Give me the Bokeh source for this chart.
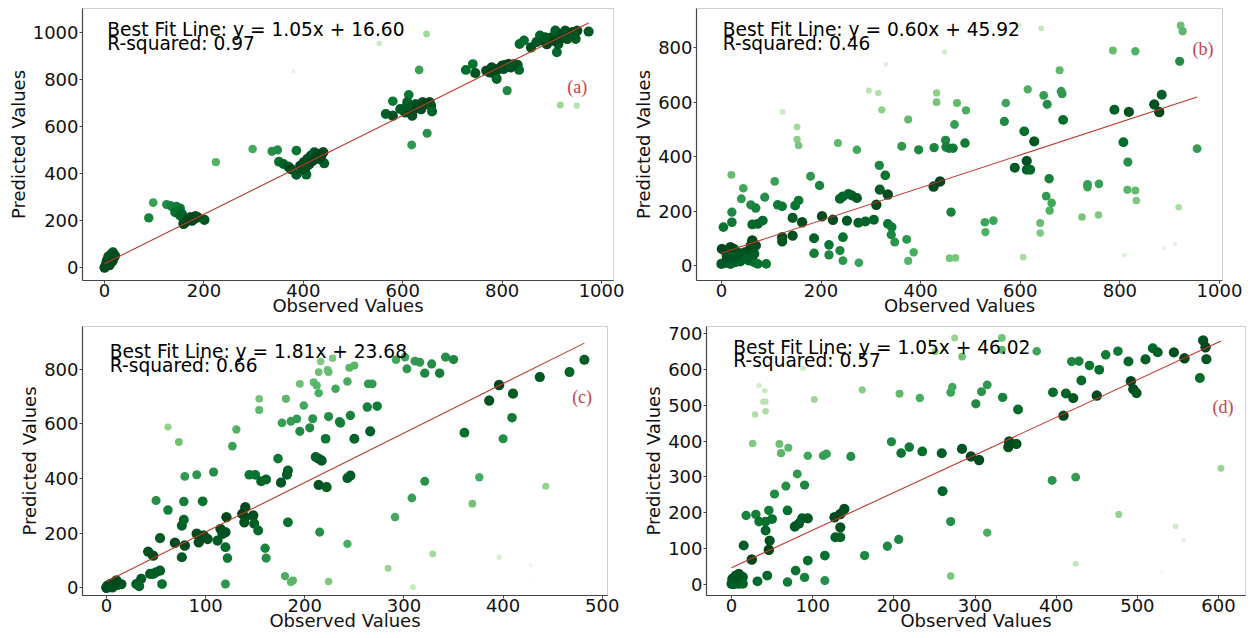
import numpy as np
from bokeh.plotting import figure
from bokeh.layouts import row, column
from bokeh.models import Range1d, FixedTicker, Label, ColumnDataSource, LinearColorMapper
from bokeh.embed import file_html
from bokeh.resources import INLINE

# ---------------- data ----------------
a_x = [0, 2, 4, 7, 10, 12, 14, 17, 19, 21, 10, 5, 13, 8, 3, 16,
       89, 98, 125, 133, 138, 145, 152, 142, 149, 156, 159, 163, 170, 173, 180, 187, 201, 159, 152, 166, 176, 183,
       166, 224,
       298, 337, 348, 386, 351, 360, 370, 375, 386, 406, 394, 401, 408, 415, 422, 429, 440, 442, 432, 412, 398, 419, 426, 405, 436,
       566, 580, 580, 612, 609, 602, 616, 619, 626, 633, 640, 647, 654, 657, 659, 605, 623, 637, 649, 618, 633, 609, 595,
       553, 648, 380,
       727, 741, 746, 768, 779, 785, 789, 792, 800, 806, 813, 820, 831, 834, 810, 775, 803, 817, 824,
       835, 844, 858, 869, 876, 883, 890, 893, 900, 907, 910, 913, 920, 927, 934, 941, 948, 951, 974, 903, 917, 931, 944, 886,
       917, 950]
a_y = [0, 5, 18, 25, 37, 22, 58, 65, 44, 51, 10, 30, 35, 48, 10, 28,
       211, 276, 268, 263, 256, 259, 252, 235, 242, 228, 207, 193, 207, 214, 207, 214, 203, 186, 221, 200, 200, 218,
       660, 448,
       504, 494, 500, 497, 450, 440, 429, 419, 395, 395, 433, 448, 462, 476, 490, 483, 490, 443, 462, 440, 419, 455, 469, 426, 476,
       653, 646, 707, 734, 703, 667, 681, 646, 695, 688, 703, 695, 703, 688, 663, 660, 674, 674, 571, 521, 840, 688, 674,
       953, 993, 833,
       840, 865, 826, 837, 851, 823, 802, 844, 858, 861, 865, 858, 861, 840, 752, 830, 844, 851, 865,
       950, 965, 936, 958, 986, 965, 950, 972, 979, 1007, 915, 950, 993, 1007, 986, 1000, 972, 1007, 1003, 965, 972, 972, 986, 979,
       691, 688]

b_x = [0, 7, 18, 28, 38, 45, 56, 66, 73, 90, 1, 7, 18, 25, 31, 38, 45, 52, 59, 62,
       69, 66, 52, 11, 25, 4, 21, 21, 20, 44, 40, 59, 69, 62, 73, 83, 87, 107, 123, 152,
       152, 155, 113, 122, 122, 122, 143, 143, 162, 148, 155, 179, 197, 186, 186, 202, 216, 216, 224, 234,
       238, 244, 244, 252, 238, 244, 255, 262, 272, 272, 276, 275, 289, 306, 311, 318, 317, 329, 334, 296,
       315, 322, 330, 231, 282, 334, 342, 341, 348, 372, 375, 386, 362, 375, 396, 426, 439, 427, 450, 451,
       457, 465, 468, 473, 491, 432, 432, 448, 461, 458, 470, 489, 529, 546, 530, 568, 571, 589, 608, 613,
       613, 620, 628, 606, 615, 640, 640, 647, 654, 658, 652, 663, 659, 679, 682, 684, 686, 598, 642, 724,
       757, 735, 735, 758, 786, 831, 789, 818, 807, 816, 815, 831, 833, 809, 869, 884, 879, 888, 911, 918,
       920, 922, 926, 955]
b_y = [6, 10, 6, 12, 15, 25, 18, 12, 6, 6, 61, 55, 67, 61, 49, 43, 47, 52, 74, 92,
       74, 43, 25, 31, 31, 141, 159, 196, 333, 284, 245, 223, 211, 151, 153, 165, 251, 309, 564, 509,
       463, 441, 223, 217, 104, 89, 110, 175, 159, 220, 239, 328, 294, 100, 45, 181, 76, 39, 168, 450,
       55, 104, 18, 165, 245, 254, 263, 257, 248, 425, 10, 157, 162, 168, 223, 279, 368, 331, 261, 643,
       634, 572, 738, 772, 772, 153, 141, 113, 86, 96, 17, 49, 438, 536, 425, 290, 309, 433, 460, 435,
       431, 431, 518, 597, 570, 634, 600, 784, 196, 27, 28, 450, 159, 165, 123, 529, 597, 359, 493, 384,
       352, 352, 456, 31, 647, 156, 119, 625, 592, 319, 255, 230, 202, 717, 640, 631, 535, 882, 871, 178,
       186, 298, 288, 300, 790, 787, 572, 564, 453, 380, 278, 276, 239, 39, 592, 627, 564, 64, 80, 214,
       750, 882, 860, 429]

c_x = [0, 1, 4, 8, 11, 15, 0, 6, 10, 30, 35, 33, 42, 47, 44, 47, 50, 54, 56, 50,
       62, 54, 69, 76, 78, 79, 76, 78, 79, 91, 97, 62, 73, 108, 91, 95, 98, 102, 93, 112,
       115, 117, 120, 120, 122, 121, 120, 127, 131, 140, 137, 140, 148, 139, 149, 153, 160, 161, 144, 150,
       156, 161, 173, 176, 183, 182, 183, 180, 188, 186, 154, 154, 181, 177, 186, 192, 195, 205, 208, 199,
       195, 209, 212, 214, 216, 223, 224, 228, 214, 224, 231, 235, 236, 243, 245, 250, 246, 264, 268, 263,
       273, 266, 250, 221, 211, 214, 217, 214, 222, 243, 246, 215, 224, 243, 284, 291, 308, 321, 329, 309,
       292, 301, 303, 311, 316, 321, 328, 336, 342, 350, 361, 376, 369, 386, 396, 400, 410, 409, 437, 443,
       396, 428, 431, 467, 482]
c_y = [2, 8, 14, 21, 11, 14, 0, 2, 27, 14, 33, 6, 133, 118, 51, 51, 57, 63, 14, 320,
       285, 182, 165, 228, 249, 155, 112, 316, 408, 414, 317, 589, 534, 424, 198, 179, 192, 179, 167, 173,
       216, 198, 204, 149, 109, 259, 14, 519, 580, 295, 271, 259, 265, 240, 235, 210, 145, 109, 414, 414,
       390, 397, 473, 385, 430, 414, 240, 43, 27, 21, 692, 651, 692, 604, 610, 619, 573, 586, 619, 668,
       747, 753, 741, 790, 829, 798, 790, 841, 713, 627, 729, 608, 604, 756, 806, 814, 631, 747, 747, 662,
       665, 573, 546, 546, 479, 473, 466, 377, 369, 402, 411, 204, 23, 161, 72, 259, 329, 390, 124, 2,
       835, 845, 802, 830, 826, 786, 820, 786, 845, 836, 568, 405, 308, 686, 743, 546, 711, 623, 772, 372,
       112, 82, 27, 790, 835]

d_x = [0, 3, 7, 12, 14, 1, 5, 9, 14, 3, 9, 5, 15, 25, 32, 18, 30, 26, 29, 34,
       41, 39, 42, 42, 34, 42, 50, 46, 42, 47, 46, 44, 53, 59, 61, 70, 67, 69, 69, 78,
       83, 87, 94, 81, 90, 94, 79, 90, 94, 102, 88, 113, 117, 115, 115, 127, 134, 139, 128, 134,
       134, 147, 161, 164, 192, 197, 206, 207, 209, 219, 232, 235, 251, 259, 260, 270, 270, 272, 270, 275,
       284, 284, 295, 305, 301, 308, 315, 315, 333, 333, 334, 341, 342, 351, 353, 376, 395, 396, 409, 412,
       421, 419, 428, 424, 424, 431, 441, 450, 453, 461, 476, 477, 489, 492, 495, 499, 510, 519, 525, 545,
       547, 557, 558, 577, 581, 584, 585, 603, 530, 562]
d_y = [1, 6, 10, 15, 20, 15, 24, 1, 1, 0, 29, 15, 108, 69, 8, 192, 195, 393, 474, 555,
       541, 510, 510, 483, 175, 175, 182, 206, 150, 122, 96, 24, 252, 392, 366, 381, 274, 206, 6, 161,
       169, 184, 184, 308, 277, 359, 38, 19, 66, 516, 603, 359, 364, 80, 10, 187, 196, 210, 131, 131,
       159, 357, 543, 80, 106, 398, 125, 532, 366, 383, 520, 371, 650, 366, 260, 175, 536, 551, 23, 688,
       636, 378, 357, 347, 504, 538, 557, 144, 688, 655, 522, 383, 399, 392, 488, 651, 290, 536, 471, 533,
       520, 622, 623, 299, 57, 569, 611, 527, 599, 641, 651, 195, 622, 567, 545, 534, 628, 659, 648, 648,
       162, 122, 631, 576, 681, 662, 629, 324, 34, 43]

slopes = [1.05, 0.60, 1.81, 1.05]
intercepts = [16.60, 45.92, 23.68, 46.02]
r_squared = [0.97, 0.46, 0.66, 0.57]
tags = ["(a)", "(b)", "(c)", "(d)"]

a_xticks = [0, 200, 400, 600, 800, 1000]
a_yticks = [0, 200, 400, 600, 800, 1000]
b_xticks = [0, 200, 400, 600, 800, 1000]
b_yticks = [0, 200, 400, 600, 800]
c_xticks = [0, 100, 200, 300, 400, 500]
c_yticks = [0, 200, 400, 600, 800]
d_xticks = [0, 100, 200, 300, 400, 500, 600]
d_yticks = [0, 100, 200, 300, 400, 500, 600, 700]

# ---------------- style ----------------
GREENS9 = ['#00441b', '#006d2c', '#238b45', '#41ab5d', '#74c476',
           '#a1d99b', '#c7e9c0', '#e5f5e0', '#f7fcf5']


def interp_palette(pal, n=256):
    cols = [tuple(int(h[i:i + 2], 16) for i in (1, 3, 5)) for h in pal]
    out = []
    for k in range(n):
        t = k / (n - 1) * (len(cols) - 1)
        i = min(int(t), len(cols) - 2)
        f = t - i
        c = [round(cols[i][j] * (1 - f) + cols[i + 1][j] * f) for j in range(3)]
        out.append('#%02x%02x%02x' % tuple(c))
    return out


PAL = interp_palette(GREENS9)
FONT = "DejaVu Sans"
FS = "18px"
FS_NOTE = "18.6px"


def build(x, y, slope, intercept, r2, tag, xt, yt, xr, yr, nxr, nyr, w, h, lb, rb, tb, bb, tagpos):
    p = figure(width=w, height=h, x_range=Range1d(*xr), y_range=Range1d(*yr),
               output_backend="svg", toolbar_location=None,
               min_border_left=lb, min_border_right=rb, min_border_top=tb, min_border_bottom=bb,
               background_fill_color="white", border_fill_color="white")
    p.outline_line_color = "#d0d0d0"
    p.outline_line_width = 1
    p.grid.grid_line_color = None

    xs = np.array(x, dtype=float)
    ys = np.array(y, dtype=float)
    res = np.abs(ys - (slope * xs + intercept))
    d = res / res.max()
    size = 10.5 * np.sqrt(1 - 0.92 * d)
    src = ColumnDataSource(dict(x=xs, y=ys, res=res, size=size))
    mapper = LinearColorMapper(palette=PAL, low=0, high=float(res.max()))
    p.scatter('x', 'y', source=src, size='size',
              fill_color={'field': 'res', 'transform': mapper}, line_color=None)

    lx = np.array([xs.min(), xs.max()])
    p.line(lx, slope * lx + intercept, line_color="#c0392b", line_width=1.1)

    for ax in (p.xaxis[0], p.yaxis[0]):
        ax.major_label_text_font = FONT
        ax.major_label_text_font_size = FS
        ax.major_label_text_color = "#111111"
        ax.axis_label_text_font = FONT
        ax.axis_label_text_font_size = FS
        ax.axis_label_text_font_style = "normal"
        ax.axis_label_text_color = "#111111"
        ax.axis_line_color = "#444444"
        ax.axis_line_width = 1.2
        ax.major_tick_line_color = "#444444"
        ax.major_tick_out = 3
        ax.major_tick_in = 0
        ax.minor_tick_line_color = None
    p.xaxis.ticker = FixedTicker(ticks=xt)
    p.yaxis.ticker = FixedTicker(ticks=yt)
    p.xaxis.axis_label = "Observed Values"
    p.yaxis.axis_label = "Predicted Values"
    p.xaxis.major_label_standoff = 0
    p.xaxis.axis_label_standoff = -5
    p.yaxis.major_label_standoff = 1
    p.yaxis.axis_label_standoff = 1

    # annotations placed as fractions of the original axes box
    xw = nxr[1] - nxr[0]
    yh = nyr[1] - nyr[0]
    p.add_layout(Label(x=nxr[0] + 0.05 * xw, y=nyr[0] + 0.96 * yh,
                       text="Best Fit Line: y = %.2fx + %.2f" % (slope, intercept),
                       text_font=FONT, text_font_size=FS_NOTE, text_color="black",
                       text_baseline="top", text_align="left"))
    p.add_layout(Label(x=nxr[0] + 0.05 * xw, y=nyr[0] + 0.91 * yh,
                       text="R-squared: %.2f" % r2,
                       text_font=FONT, text_font_size=FS_NOTE, text_color="black",
                       text_baseline="top", text_align="left"))
    p.add_layout(Label(x=nxr[0] + tagpos[0] * xw, y=nyr[0] + tagpos[1] * yh,
                       text=tag, text_font="Liberation Serif", text_font_size="18px",
                       text_color="#c8414f", text_baseline="middle", text_align="left"))
    return p


# row 1: shared top/bottom borders (8 / 43); row 2: shared (3 / 43)
pa = build(a_x, a_y, slopes[0], intercepts[0], r_squared[0], tags[0], a_xticks, a_yticks,
           (-44.3, 1024), (-55, 1101), (-48, 1024), (-55, 1101),
           630, 323, 82, 17, 8, 43, (0.913, 0.71))
pb = build(b_x, b_y, slopes[1], intercepts[1], r_squared[1], tags[1], b_xticks, b_yticks,
           (-50, 1006), (-55, 944), (-50, 1006), (-40, 943),
           625, 323, 64, 33, 8, 43, (0.943, 0.85))
pc = build(c_x, c_y, slopes[2], intercepts[2], r_squared[2], tags[2], c_xticks, c_yticks,
           (-24.2, 505.3), (-28, 957), (-23, 505), (-46, 942),
           640, 315, 82, 33, 3, 43, (0.933, 0.755))
pd = build(d_x, d_y, slopes[3], intercepts[3], r_squared[3], tags[3], d_xticks, d_yticks,
           (-30.8, 633.2), (-31.6, 720), (-31, 633), (-32, 722),
           615, 315, 66, 10, 3, 43, (0.939, 0.70))

layout = column(row(pa, pb), row(pc, pd))
open("out.html", "w").write(file_html(layout, INLINE, "plot"))
